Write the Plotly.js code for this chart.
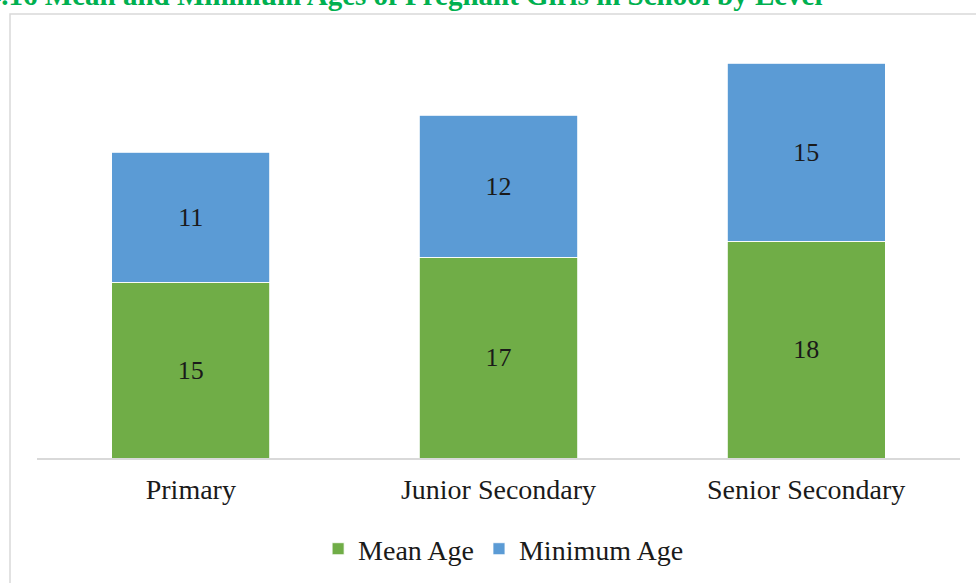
<!DOCTYPE html>
<html>
<head>
<meta charset="utf-8">
<script src="https://cdn.plot.ly/plotly-3.0.1.min.js"></script>
<style>html,body{margin:0;padding:0;background:#fff;}#chart{width:976px;height:583px;}</style>
</head>
<body>
<div id="chart"></div>
<script>
const categories = ["Primary", "Junior Secondary", "Senior Secondary"];
const meanAge = [14.8, 16.9, 18.25];
const minimumAge = [10.93, 11.94, 14.97];
const seriesNames = ["Mean Age", "Minimum Age"];
const titleText = "Figure 4.16 Mean and Minimum Ages of Pregnant Girls in School by Level";

const FONT = "Liberation Serif, Times New Roman, serif";
const traces = [
  {
    type: "bar", name: seriesNames[0], x: categories, y: meanAge,
    marker: {color: "#70AD47", line: {color: "#ffffff", width: 0.8}},
    texttemplate: "%{y:.0f}", textposition: "inside", insidetextanchor: "middle",
    textfont: {family: FONT, size: 26, color: "#1a1a1a"}, hoverinfo: "x+y"
  },
  {
    type: "bar", name: seriesNames[1], x: categories, y: minimumAge,
    marker: {color: "#5B9BD5", line: {color: "#ffffff", width: 0.8}},
    texttemplate: "%{y:.0f}", textposition: "inside", insidetextanchor: "middle",
    textfont: {family: FONT, size: 26, color: "#1a1a1a"}, hoverinfo: "x+y"
  }
];

const layout = {
  width: 976, height: 583,
  margin: {l: 37, r: 16, t: 30, b: 125, autoexpand: false},
  paper_bgcolor: "#ffffff", plot_bgcolor: "#ffffff",
  barmode: "stack", bargap: 0.486,
  font: {family: FONT, size: 28, color: "#1a1a1a"},
  xaxis: {
    showgrid: false, showline: true, linecolor: "#D9D9D9", linewidth: 1.5,
    ticks: "", tickfont: {family: FONT, size: 28, color: "#1a1a1a"},
    ticklabelstandoff: 6, zeroline: false, automargin: false
  },
  yaxis: {range: [0, 36], visible: false, showgrid: false, zeroline: false},
  showlegend: true,
  legend: {
    orientation: "h", x: 0.505, xanchor: "center",
    yref: "container", y: 0.0583, yanchor: "middle",
    font: {family: FONT, size: 28, color: "#1a1a1a"}, traceorder: "normal",
    itemwidth: 30
  },
  shapes: [{
    type: "rect", xref: "paper", yref: "paper",
    x0: -0.02925, x1: 1.2, y0: -0.5, y1: 1.0374,
    line: {color: "#D9D9D9", width: 1.5}, fillcolor: "rgba(0,0,0,0)", layer: "below"
  }],
  annotations: [{
    text: titleText, xref: "paper", yref: "paper",
    x: 0.8537, xanchor: "right", y: 1.0818, yanchor: "middle", showarrow: false,
    font: {family: FONT, size: 29, color: "#00B050", weight: "bold"}
  }]
};

Plotly.newPlot("chart", traces, layout, {displayModeBar: false, staticPlot: true});
</script>
</body>
</html>
